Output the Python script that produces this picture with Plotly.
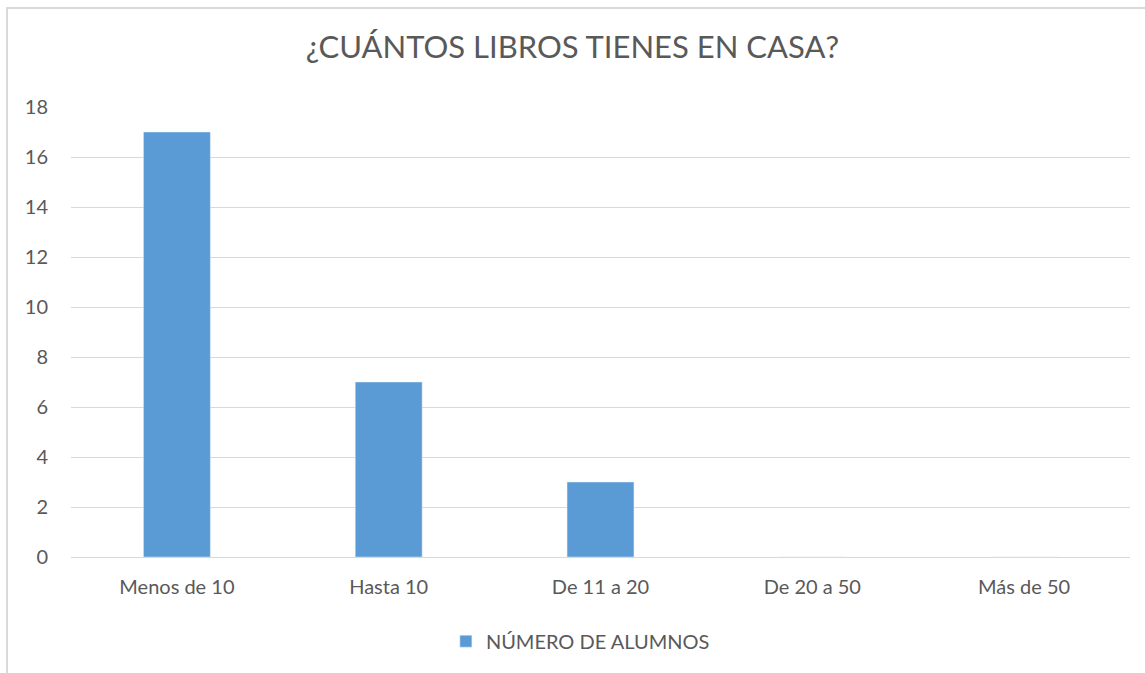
import plotly.graph_objects as go

categories = ["Menos de 10", "Hasta 10", "De 11 a 20", "De 20 a 50", "Más de 50"]
values = [17, 7, 3, 0, 0]
series_name = "NÚMERO DE ALUMNOS"
title_text = "¿CUÁNTOS LIBROS TIENES EN CASA?"
y_ticks = [0, 2, 4, 6, 8, 10, 12, 14, 16, 18]

font_family = "Lato, Open Sans, sans-serif"
text_color = "#595959"
grid_color = "#D9D9D9"

fig = go.Figure()
fig.add_trace(go.Bar(
    x=categories, y=values, name=series_name,
    marker=dict(color="#5B9BD5"), width=0.316,
    showlegend=True,
))

fig.update_layout(
    width=1145, height=673,
    margin=dict(l=71, r=15, t=107, b=116),
    paper_bgcolor="white", plot_bgcolor="white",
    font=dict(family=font_family, color=text_color, size=20),
    title=dict(text=title_text, x=0.5, xanchor="center", y=1 - 47 / 673, yanchor="middle",
               font=dict(size=31, color=text_color, family=font_family)),
    xaxis=dict(showgrid=False, showline=False, ticks="", tickfont=dict(size=20, color=text_color),
               ticklabelstandoff=16),
    yaxis=dict(range=[0, 18], tickvals=y_ticks, showgrid=True, gridcolor=grid_color, gridwidth=1,
               zeroline=True, zerolinecolor=grid_color, zerolinewidth=1, showline=False,
               ticks="", tickfont=dict(size=20, color=text_color), ticklabelstandoff=22),
    legend=dict(orientation="h", x=0.481, xanchor="center", y=-0.187, yanchor="middle",
                font=dict(size=20, color=text_color), itemwidth=30),
    bargap=0.684,
    shapes=[dict(type="rect", xref="paper", yref="paper", x0=-0.0604, x1=1.03, y0=-0.3, y1=1.22,
                 line=dict(color=grid_color, width=2), fillcolor="rgba(0,0,0,0)", layer="below")],
)

fig.write_html("out.html", config={"displayModeBar": False},
               post_script="document.body.style.margin='0';document.body.style.padding='0';")
